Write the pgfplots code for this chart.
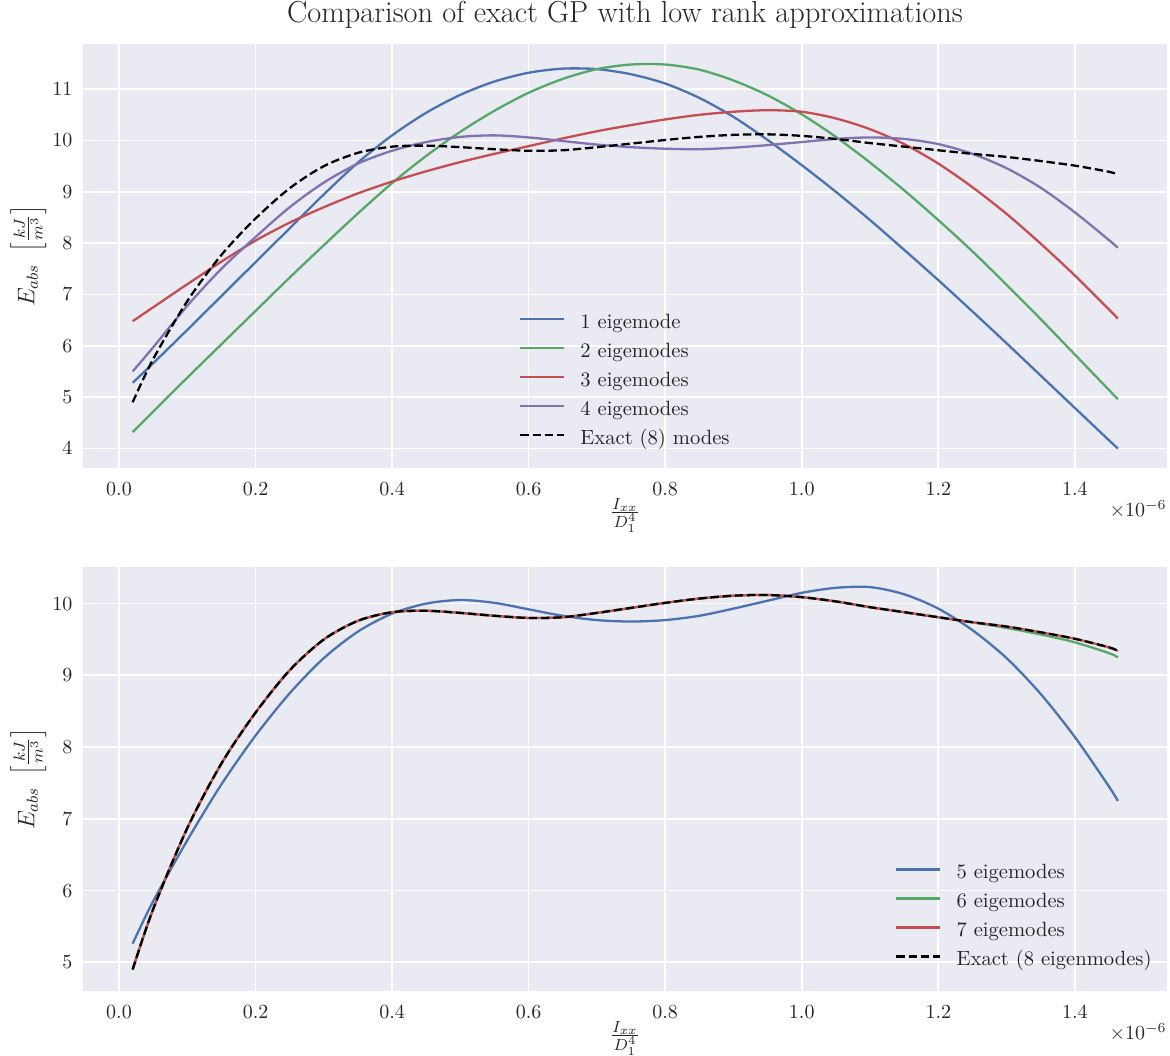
\documentclass[border=0pt]{standalone}
\usepackage{pgfplots}
\usepackage{pgfplotstable}
\pgfplotsset{compat=1.18}
\definecolor{bgc}{HTML}{EAEAF2}
\definecolor{txtc}{HTML}{262626}
\definecolor{c1}{HTML}{4C72B0}
\definecolor{c2}{HTML}{55A868}
\definecolor{c3}{HTML}{C44E52}
\definecolor{c4}{HTML}{8172B2}

\pgfplotstableread{
x b1 b2 b3 b4 ex
0.02 5.28 4.32 6.48 5.50 4.90
0.05 5.66 4.72 6.75 5.97 5.74
0.10 6.31 5.38 7.20 6.78 6.87
0.15 6.97 6.03 7.64 7.50 7.77
0.20 7.63 6.68 8.05 8.12 8.48
0.25 8.29 7.33 8.40 8.70 9.07
0.30 8.95 7.96 8.70 9.18 9.50
0.35 9.57 8.58 8.97 9.55 9.76
0.40 10.10 9.17 9.20 9.80 9.88
0.45 10.54 9.70 9.40 9.97 9.90
0.50 10.89 10.17 9.58 10.07 9.87
0.55 11.15 10.58 9.74 10.10 9.83
0.60 11.32 10.93 9.89 10.06 9.80
0.65 11.40 11.20 10.04 9.99 9.81
0.70 11.39 11.39 10.18 9.92 9.87
0.75 11.29 11.48 10.30 9.87 9.94
0.80 11.11 11.48 10.41 9.84 10.01
0.85 10.83 11.38 10.50 9.83 10.07
0.90 10.46 11.17 10.56 9.86 10.11
0.95 10.01 10.88 10.59 9.91 10.12
1.00 9.52 10.51 10.56 9.97 10.09
1.05 9.00 10.07 10.43 10.03 10.03
1.10 8.45 9.57 10.22 10.06 9.95
1.15 7.87 9.03 9.93 10.03 9.88
1.20 7.28 8.45 9.55 9.93 9.81
1.25 6.67 7.84 9.09 9.74 9.74
1.30 6.05 7.19 8.57 9.46 9.68
1.35 5.42 6.52 7.99 9.08 9.60
1.40 4.79 5.83 7.37 8.60 9.51
1.45 4.16 5.14 6.71 8.06 9.39
1.463 4.00 4.96 6.53 7.91 9.34
}\topdata

\pgfplotstableread{
x b5 b6 b7 ex
0.02 5.26 4.90 4.90 4.90
0.05 5.85 5.74 5.74 5.74
0.10 6.70 6.87 6.87 6.87
0.15 7.48 7.77 7.77 7.77
0.20 8.16 8.48 8.48 8.48
0.25 8.75 9.07 9.07 9.07
0.30 9.24 9.50 9.50 9.50
0.35 9.61 9.76 9.76 9.76
0.40 9.86 9.88 9.88 9.88
0.45 10.00 9.90 9.90 9.90
0.50 10.05 9.87 9.87 9.87
0.55 10.01 9.83 9.83 9.83
0.60 9.92 9.80 9.80 9.80
0.65 9.83 9.81 9.81 9.81
0.70 9.77 9.87 9.87 9.87
0.75 9.75 9.94 9.94 9.94
0.80 9.77 10.01 10.01 10.01
0.85 9.83 10.07 10.07 10.07
0.90 9.93 10.11 10.11 10.11
0.95 10.04 10.12 10.12 10.12
1.00 10.15 10.09 10.09 10.09
1.05 10.22 10.03 10.03 10.03
1.10 10.23 9.95 9.95 9.95
1.15 10.13 9.88 9.88 9.88
1.20 9.93 9.81 9.81 9.81
1.25 9.63 9.74 9.74 9.74
1.30 9.24 9.66 9.68 9.68
1.35 8.74 9.57 9.60 9.60
1.40 8.14 9.46 9.51 9.51
1.45 7.45 9.31 9.39 9.39
1.463 7.25 9.25 9.34 9.34
}\botdata

\pgfplotsset{
  sb/.style={
    width=542pt, height=212pt, scale only axis,
    clip mode=individual,
    axis background/.style={fill=bgc},
    axis line style={draw=none},
    tick style={draw=none},
    grid=major,
    major grid style={white, line width=0.85pt},
    xmin=-0.0527, xmax=1.535,
    xtick={0,0.2,0.4,0.6,0.8,1.0,1.2,1.4},
    x tick label style={/pgf/number format/fixed, /pgf/number format/fixed zerofill, /pgf/number format/precision=1, inner sep=0pt, yshift=-6.85pt},
    y tick label style={inner sep=0pt, xshift=-5.15pt},
    ticklabel style={font=\fontsize{10}{12}\selectfont, text=txtc},
    xlabel={$\frac{I_{xx}}{D_1^4}$},
    xlabel style={at={(axis description cs:0.5,0)}, anchor=north, yshift=-15pt, inner sep=0pt, font=\fontsize{12}{14}\selectfont, text=txtc},
    ylabel={$E_{abs}\ \left[\frac{kJ}{m^3}\right]$},
    ylabel style={at={(axis description cs:-0.0335,0.5)}, anchor=south, inner sep=0pt, font=\fontsize{12}{14}\selectfont, text=txtc},
    legend cell align=left,
    legend image code/.code={\draw[#1] (0pt,0.5ex) -- (22pt,0.5ex);},
    legend style={draw=none, fill=none, inner sep=0pt, font=\fontsize{10.3}{12}\selectfont, text=txtc,
      row sep=5pt, column sep=7.5pt, nodes={inner sep=0pt, text height=7pt, text depth=2.5pt}},
    every axis plot/.append style={line width=1.15pt, smooth},
  }
}

\begin{document}
\begin{tikzpicture}
\path[use as bounding box] (0,0) rectangle (585pt,-527.5pt);

\begin{axis}[sb, at={(41.5pt,-234pt)}, anchor=south west,
  ymin=3.62, ymax=11.88, ytick={4,5,6,7,8,9,10,11},
  title={Comparison of exact GP with low rank approximations},
  title style={at={(0.5,1)}, anchor=base, yshift=4.5pt, inner sep=0pt, font=\fontsize{15.2}{18}\selectfont, text=txtc},
  legend style={at={(0.402,0.364)}, anchor=north west}]
\addplot[c1] table[x=x,y=b1] {\topdata};
\addlegendentry{1 eigemode}
\addplot[c2] table[x=x,y=b2] {\topdata};
\addlegendentry{2 eigemodes}
\addplot[c3] table[x=x,y=b3] {\topdata};
\addlegendentry{3 eigemodes}
\addplot[c4] table[x=x,y=b4] {\topdata};
\addlegendentry{4 eigemodes}
\addplot[black, dash pattern=on 4.2pt off 1.9pt] table[x=x,y=ex] {\topdata};
\addlegendentry{Exact (8) modes}
\node[anchor=north east, inner sep=0pt, font=\fontsize{10}{12}\selectfont, text=txtc] at (rel axis cs:1,0) [yshift=-16pt] {$\times10^{-6}$};
\end{axis}

\begin{axis}[sb, at={(41.5pt,-495.5pt)}, anchor=south west,
  ymin=4.60, ymax=10.51, ytick={5,6,7,8,9,10},
  legend style={at={(0.749,0.30)}, anchor=north west}]
\addplot[c1] table[x=x,y=b5] {\botdata};
\addlegendentry{5 eigemodes}
\addplot[c2] table[x=x,y=b6] {\botdata};
\addlegendentry{6 eigemodes}
\addplot[c3] table[x=x,y=b7] {\botdata};
\addlegendentry{7 eigemodes}
\addplot[black, dash pattern=on 4.2pt off 1.9pt] table[x=x,y=ex] {\botdata};
\addlegendentry{Exact (8 eigenmodes)}
\node[anchor=north east, inner sep=0pt, font=\fontsize{10}{12}\selectfont, text=txtc] at (rel axis cs:1,0) [yshift=-16pt] {$\times10^{-6}$};
\end{axis}
\end{tikzpicture}
\end{document}
